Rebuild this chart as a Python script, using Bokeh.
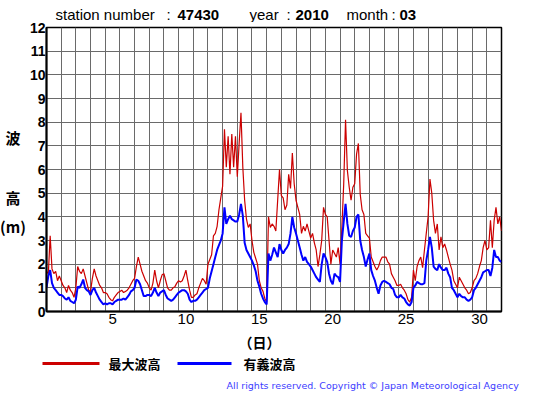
from bokeh.plotting import figure
from bokeh.models import FixedTicker, Range1d
from bokeh.layouts import column, row
from bokeh.core.properties import value
from bokeh.embed import file_html
from bokeh.resources import INLINE

station = "47430"
year = "2010"
month = "03"
hours_step = 3
max_wave = [
    1.7, 1.6, 3.2, 1.8, 1.6, 1.7, 1.3, 1.5,
    1.3, 1.1, 1.0, 0.8, 1.1, 0.9, 0.8, 0.6,
    1.0, 1.9, 1.7, 1.6, 1.8, 1.5, 1.2, 0.9,
    0.85, 1.4, 1.8, 1.5, 1.3, 1.1, 1.0, 0.8,
    0.8, 0.75, 0.6, 0.5, 0.45, 0.6, 0.7, 0.8,
    0.85, 0.9, 0.8, 0.85, 0.9, 1.0, 1.15, 1.3,
    1.4, 1.9, 2.3, 2.0, 1.7, 1.5, 1.3, 1.2,
    1.0, 0.9, 1.2, 1.75, 1.3, 1.0, 1.3, 1.55,
    1.6, 1.3, 1.0, 0.9, 0.9, 1.0, 1.05, 1.2,
    1.3, 1.25, 1.3, 1.5, 1.75, 1.3, 0.9, 0.6,
    0.6, 0.7, 0.75, 1.0, 1.2, 1.4, 1.3, 1.15,
    2.0, 2.2, 2.4, 3.2, 3.3, 3.6, 4.3, 4.8,
    5.3, 7.7, 6.1, 7.4, 5.8, 7.5, 6.1, 7.4,
    5.7, 7.1, 8.4, 6.1, 4.7, 3.9, 3.55, 3.7,
    3.0, 2.5, 2.25, 2.0, 1.3, 1.0, 0.85, 0.55,
    0.4, 4.0, 3.55, 3.7, 3.6, 3.4, 4.7, 6.0,
    4.9, 4.8, 4.3, 4.5, 5.8, 5.2, 6.7, 5.4,
    4.7, 4.4, 4.1, 3.3, 3.6, 3.4, 3.7, 3.4,
    3.1, 3.3, 2.9, 2.6, 1.9, 2.4, 3.0, 4.4,
    4.1, 4.0, 3.0, 2.0, 2.6, 2.45, 2.3, 2.7,
    2.0, 3.55, 5.4, 8.1, 5.95, 5.25, 4.7, 5.25,
    5.4, 6.65, 7.1, 4.95, 4.3, 4.1, 3.3, 3.2,
    3.1, 2.3, 2.1, 1.9, 1.75, 1.9, 2.15, 2.3,
    2.3, 2.3, 2.1, 2.0, 1.6, 1.45, 1.3, 1.1,
    1.1, 1.15, 1.0, 0.9, 0.75, 0.5, 0.4, 0.6,
    1.75, 1.3, 1.9, 2.15, 2.3, 1.85, 2.6, 3.3,
    4.0, 5.6, 5.0, 3.85, 3.3, 3.7, 2.6, 3.15,
    2.7, 2.85, 2.6, 2.3, 2.0, 1.75, 1.3, 1.15,
    1.0, 1.45, 1.3, 1.15, 1.0, 0.9, 0.75, 0.8,
    1.0, 1.3, 1.4, 1.6, 1.9, 2.15, 2.7, 3.0,
    2.6, 2.7, 3.85, 2.7, 3.85, 4.4, 3.7, 4.0,
    3.4,
]
sig_wave = [
    1.0, 1.5, 1.75, 1.2, 1.0, 0.9, 0.8, 0.7,
    0.7, 0.65, 0.55, 0.5, 0.6, 0.45, 0.4, 0.35,
    0.5, 1.05, 1.0, 1.15, 1.35, 1.0, 0.9, 0.85,
    0.7, 0.9, 1.0, 0.8, 0.65, 0.5, 0.4, 0.3,
    0.35, 0.3, 0.35, 0.35, 0.3, 0.4, 0.45, 0.5,
    0.5, 0.5, 0.55, 0.5, 0.6, 0.7, 0.85, 0.9,
    1.0, 1.35, 1.3, 1.15, 0.9, 0.65, 0.65, 0.7,
    0.7, 0.65, 0.8, 1.0, 0.8, 0.65, 0.8, 0.85,
    0.9, 0.7, 0.55, 0.5, 0.45, 0.5, 0.6, 0.7,
    0.8, 0.85, 0.9, 0.9, 0.85, 0.75, 0.5, 0.4,
    0.45, 0.45, 0.5, 0.6, 0.7, 0.8, 0.9, 0.95,
    1.0, 1.4, 1.7, 2.0, 2.3, 2.6, 2.8, 3.0,
    3.3, 4.4, 3.7, 3.9, 4.05, 3.9, 3.85, 3.8,
    3.8, 4.1, 4.55, 4.05, 2.9, 2.6, 2.45, 2.3,
    2.15, 1.95, 1.7, 1.3, 1.05, 0.75, 0.55, 0.4,
    0.3, 2.45, 2.15, 2.4, 2.7, 2.5, 2.3, 2.85,
    2.6, 2.45, 2.6, 2.7, 2.85, 3.3, 4.0, 3.55,
    3.3, 3.0, 2.7, 2.4, 2.15, 2.3, 2.1, 2.0,
    1.9, 1.75, 1.6, 1.45, 1.35, 1.25, 2.0, 2.45,
    2.3, 2.1, 1.6, 1.3, 1.15, 1.6, 1.5, 1.45,
    1.25, 3.0, 3.8, 4.55, 3.7, 3.2, 3.15, 3.4,
    3.55, 4.0, 4.1, 3.0, 2.6, 2.3, 1.9, 2.2,
    2.45, 1.75, 1.5, 1.3, 1.0, 0.75, 1.1, 1.25,
    1.3, 1.25, 1.2, 1.15, 1.0, 0.95, 0.7, 0.6,
    0.6, 0.7, 0.6, 0.55, 0.4, 0.3, 0.25, 0.4,
    1.0, 1.1, 1.25, 1.2, 1.15, 1.15, 1.2, 2.15,
    2.6, 3.15, 2.7, 1.9, 1.8, 1.75, 2.0, 1.85,
    1.75, 1.75, 1.85, 1.6, 1.45, 1.0, 0.9, 0.75,
    0.6, 0.75, 0.65, 0.6, 0.6, 0.5, 0.45, 0.5,
    0.6, 0.9, 1.0, 1.15, 1.3, 1.45, 1.65, 1.7,
    1.75, 1.75, 1.5, 1.85, 2.6, 2.3, 2.3, 2.15,
    2.1,
]
x_tick_days = [5, 10, 15, 20, 25, 30]
y_ticks = list(range(0, 13))
legend_labels = ["最大波高", "有義波高"]
legend_colors = ["#cc0000", "#0000ff"]
copyright_text = "All rights reserved. Copyright \u00a9 Japan Meteorological Agency"

xs = [1 + i * hours_step / 24 for i in range(len(max_wave))]

W, H = 555, 395
TOP_H = 22
LEFT_W = 26
FRAME_W, FRAME_H = 455, 284
MB_L, MB_T, MB_B = 18, 5, 20
MB_R = W - LEFT_W - MB_L - FRAME_W
MAIN_H = MB_T + FRAME_H + MB_B
BOT_Y0 = TOP_H + MAIN_H
BOT_H = H - BOT_Y0
CJK = "Noto Sans CJK JP"
LAT = "Liberation Sans"


def blank(w, h):
    f = figure(width=w, height=h, x_range=Range1d(0, w), y_range=Range1d(h, 0),
               x_axis_type=None, y_axis_type=None, output_backend="svg",
               toolbar_location=None, min_border=0)
    f.outline_line_color = None
    f.background_fill_color = "white"
    f.border_fill_color = "white"
    f.grid.visible = False
    return f


def txt(f, x, y, t, size, font=LAT, bold=False, align="left", color="black"):
    f.text(x=[x], y=[y], text=[t], text_font=value(font), text_font_size=value(size),
           text_font_style="bold" if bold else "normal", text_align=align,
           text_baseline="middle", text_color=color)

# ---- top strip (title) ----
top = blank(W, TOP_H)
ty = 14
txt(top, 55, ty, "station number", "15px")
txt(top, 166, ty, ":", "15px")
txt(top, 177, ty, station, "15px", bold=True)
txt(top, 249, ty, "year", "15px")
txt(top, 286, ty, ":", "15px")
txt(top, 295, ty, year, "15px", bold=True)
txt(top, 346, ty, "month", "15px")
txt(top, 391, ty, ":", "15px")
txt(top, 399, ty, month, "15px", bold=True)

# ---- left strip (y label) ----
left = blank(LEFT_W, MAIN_H)
txt(left, 12.5, 142 - TOP_H, "波", "15px", font=CJK, bold=True, align="center")
txt(left, 12.5, 207 - TOP_H, "高", "15px", font=CJK, bold=True, align="center")
txt(left, 12.5, 238 - TOP_H, "(m)", "15px", font=CJK, bold=True, align="center")

# ---- main chart ----
p = figure(frame_width=FRAME_W, frame_height=FRAME_H,
           x_range=Range1d(1, 32), y_range=Range1d(0, 12),
           output_backend="svg", toolbar_location=None,
           min_border_left=MB_L, min_border_right=MB_R,
           min_border_top=MB_T, min_border_bottom=MB_B)
p.background_fill_color = "white"
p.border_fill_color = "white"
p.outline_line_color = "black"
p.outline_line_width = 1.5

p.xgrid.ticker = FixedTicker(ticks=list(range(2, 32)))
p.ygrid.ticker = FixedTicker(ticks=list(range(1, 12)))
for g in (p.xgrid, p.ygrid):
    g.grid_line_color = "#6a6a6a"
    g.grid_line_width = 1
    g.grid_line_alpha = 1

p.xaxis.ticker = FixedTicker(ticks=[d + 0.5 for d in x_tick_days])
p.xaxis.major_label_overrides = {d + 0.5: str(d) for d in x_tick_days}
p.yaxis.ticker = FixedTicker(ticks=y_ticks)
for ax in (p.xaxis, p.yaxis):
    ax.axis_line_color = "black"
    ax.axis_line_width = 2
    ax.major_tick_line_color = None
    ax.minor_tick_line_color = None
    ax.major_tick_out = 0
    ax.major_tick_in = 0
    ax.major_label_text_color = "black"
    ax.major_label_text_font = LAT
p.xaxis.major_label_text_font_size = "15px"
p.xaxis.major_label_standoff = 2
p.yaxis.major_label_text_font_size = "14px"
p.yaxis.major_label_text_font_style = "bold"
p.yaxis.major_label_standoff = 1

p.line(xs, max_wave, line_color=legend_colors[0], line_width=1.2)
p.line(xs, sig_wave, line_color=legend_colors[1], line_width=2)

# ---- bottom strip (x label, legend, copyright) ----
bot = blank(W, BOT_H)
txt(bot, 259, 341 - BOT_Y0, "（日）", "14px", font=CJK, bold=True, align="center")
ly = 363 - BOT_Y0
bot.segment(x0=[42, 177], y0=[ly, ly], x1=[99, 231], y1=[ly, ly],
            line_color=legend_colors, line_width=3)
txt(bot, 108, ly, legend_labels[0], "13px", font=CJK, bold=True)
txt(bot, 243, ly, legend_labels[1], "13px", font=CJK, bold=True)
txt(bot, 226, 385 - BOT_Y0, copyright_text, "9.5px", font="DejaVu Sans", color="#3c3cff")

layout = column(top, row(left, p), bot)
open("out.html", "w").write(file_html(layout, INLINE))
